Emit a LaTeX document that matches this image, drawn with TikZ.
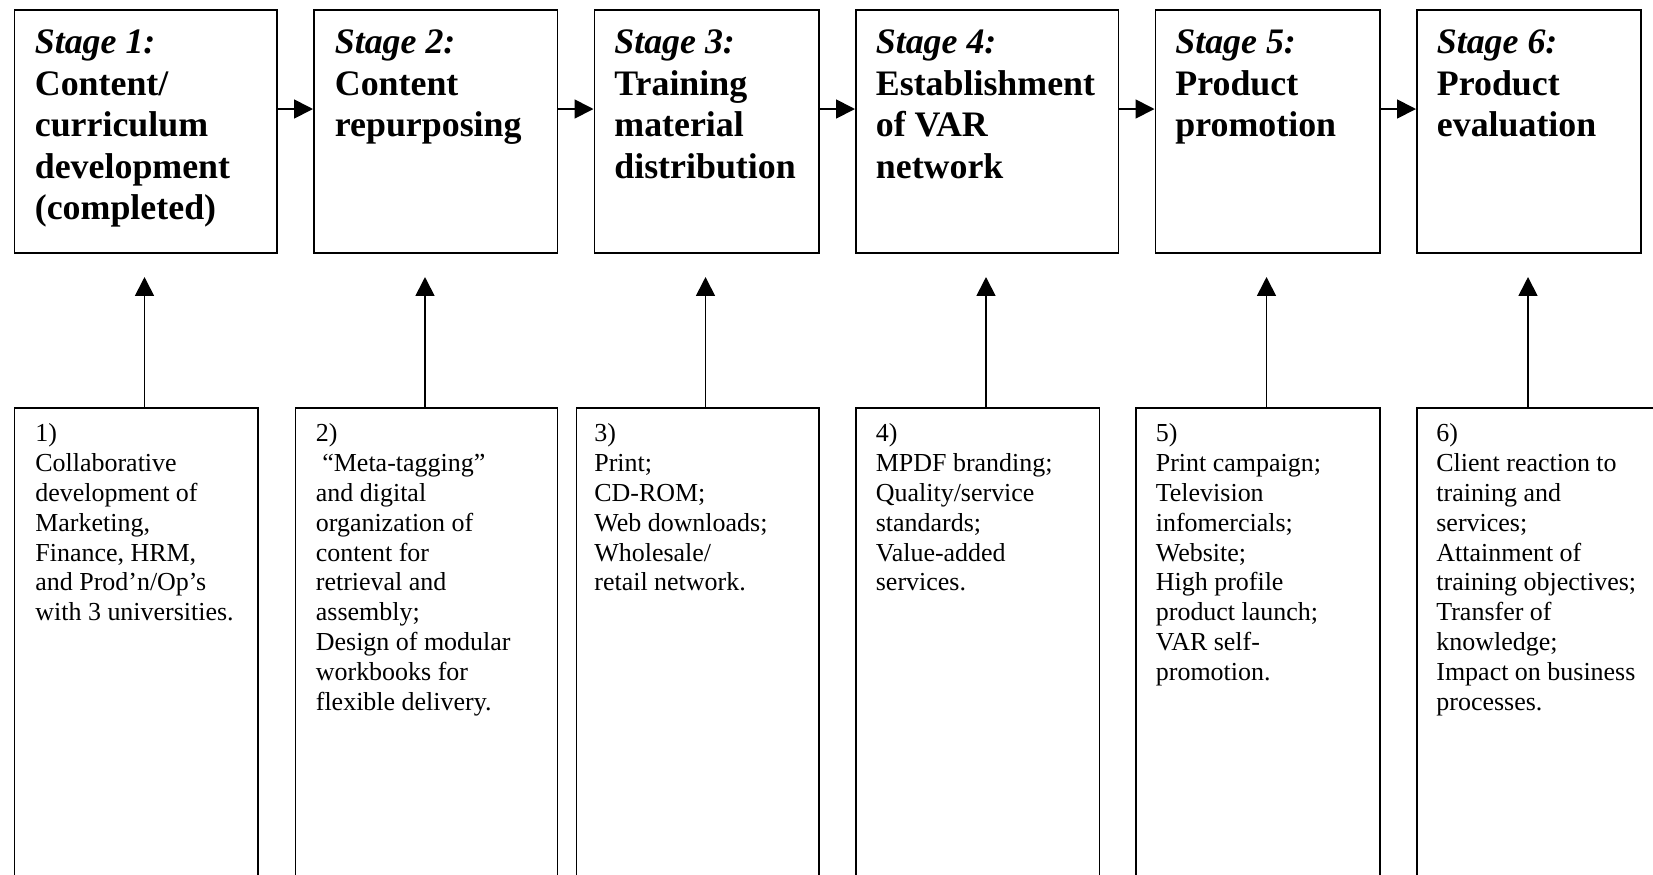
\documentclass[tikz,border=0pt]{standalone}
\usepackage{fontspec}
\setmainfont{Liberation Serif}
\usetikzlibrary{arrows.meta}

\newlength{\pxu}
\setlength{\pxu}{0.4545pt}

\tikzset{every picture/.style={line width=0.8pt}}
\tikzset{
  stagebox/.style={draw, anchor=north west, inner sep=0pt, minimum height=243\pxu},
  notebox/.style={draw, anchor=north west, inner sep=0pt, minimum height=520\pxu},
  stagetext/.style={anchor=north west, inner sep=0pt, align=left, font=\fontsize{16.3}{18.86}\selectfont\bfseries},
  notetext/.style={anchor=north west, inner sep=0pt, align=left, font=\fontsize{11.8}{13.55}\selectfont},
  flow/.style={-{Triangle[length=8.6pt,width=8.6pt]}}
}

\begin{document}
\begin{tikzpicture}[x=1\pxu,y=1\pxu,yscale=-1,xscale=1]
\useasboundingbox (0,0) rectangle (1653,874);
\clip (0,0) rectangle (1653,874);

%Shape: Rectangle (stages)
\draw (13.5,9) node [stagebox, minimum width=262.5\pxu] (s1) {};
\draw (313,9) node [stagebox, minimum width=243.5\pxu] (s2) {};
\draw (593.5,9) node [stagebox, minimum width=224.5\pxu] (s3) {};
\draw (855,9) node [stagebox, minimum width=262.5\pxu] (s4) {};
\draw (1154.5,9) node [stagebox, minimum width=224.5\pxu] (s5) {};
\draw (1416,9) node [stagebox, minimum width=224\pxu] (s6) {};

%Shape: Rectangle (notes)
\draw (13.5,407) node [notebox, minimum width=243.5\pxu] (b1) {};
\draw (294.5,407) node [notebox, minimum width=262\pxu] (b2) {};
\draw (575.5,407) node [notebox, minimum width=242.5\pxu] (b3) {};
\draw (855,407) node [notebox, minimum width=243.5\pxu] (b4) {};
\draw (1135,407) node [notebox, minimum width=244\pxu] (b5) {};
\draw (1416,407) node [notebox, minimum width=300\pxu] (b6) {};

%Straight Lines (stage to stage)
\coordinate (row) at (0,109);
\draw [flow] (s1.east |- row) -- (s2.west |- row);
\draw [flow] (s2.east |- row) -- (s3.west |- row);
\draw [flow] (s3.east |- row) -- (s4.west |- row);
\draw [flow] (s4.east |- row) -- (s5.west |- row);
\draw [flow] (s5.east |- row) -- (s6.west |- row);

%Straight Lines (notes up to stages)
\coordinate (t1) at (144.5,277);
\coordinate (t2) at (425,277);
\coordinate (t3) at (705.5,277);
\coordinate (t4) at (986,277);
\coordinate (t5) at (1266.5,277);
\coordinate (t6) at (1528,277);
\draw [flow] (b1.north -| t1) -- (t1);
\draw [flow] (b2.north -| t2) -- (t2);
\draw [flow] (b3.north -| t3) -- (t3);
\draw [flow] (b4.north -| t4) -- (t4);
\draw [flow] (b5.north -| t5) -- (t5);
\draw [flow] (b6.north -| t6) -- (t6);

% Text Node
\draw (34,24) node [stagetext] (l1) {\strut\textit{Stage 1:}\\Content/\\curriculum\\development\\(completed)};
% Text Node
\draw (334,24) node [stagetext] (l2) {\strut\textit{Stage 2:}\\Content\\repurposing};
% Text Node
\draw (613.5,24) node [stagetext] (l3) {\strut\textit{Stage 3:}\\Training\\material\\distribution};
% Text Node
\draw (875,24) node [stagetext] (l4) {\strut\textit{Stage 4:}\\Establishment\\of VAR\\network};
% Text Node
\draw (1174.5,24) node [stagetext] (l5) {\strut\textit{Stage 5:}\\Product\\promotion};
% Text Node
\draw (1436,24) node [stagetext] (l6) {\strut\textit{Stage 6:}\\Product\\evaluation};

% Text Node
\draw (34.5,420) node [notetext] (n1) {\strut 1)\\Collaborative\\development of\\Marketing,\\Finance, HRM,\\and Prod’n/Op’s\\with 3 universities.};
% Text Node
\draw (315,420) node [notetext] (n2) {\strut 2)\\\hspace*{0.25em}“Meta-tagging”\\and digital\\organization of\\content for\\retrieval and\\assembly;\\Design of modular\\workbooks for\\flexible delivery.};
% Text Node
\draw (593.5,420) node [notetext] (n3) {\strut 3)\\Print;\\CD-ROM;\\Web downloads;\\Wholesale/\\retail network.};
% Text Node
\draw (875,420) node [notetext] (n4) {\strut 4)\\MPDF branding;\\Quality/service\\standards;\\Value-added\\services.};
% Text Node
\draw (1155,420) node [notetext] (n5) {\strut 5)\\Print campaign;\\Television\\infomercials;\\Website;\\High profile\\product launch;\\VAR self-\\promotion.};
% Text Node
\draw (1435.5,420) node [notetext] (n6) {\strut 6)\\Client reaction to\\training and\\services;\\Attainment of\\training objectives;\\Transfer of\\knowledge;\\Impact on business\\processes.};

\end{tikzpicture}
\end{document}
